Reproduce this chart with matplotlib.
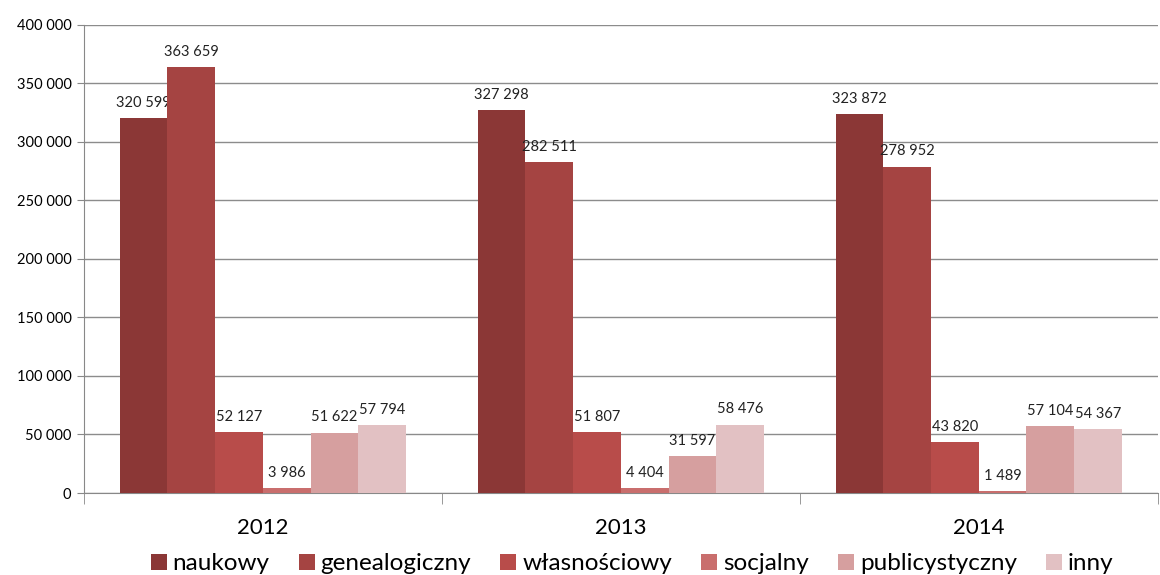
import numpy as np
import matplotlib.pyplot as plt
from matplotlib.ticker import FuncFormatter, FixedLocator

years = ['2012', '2013', '2014']
series = ['naukowy', 'genealogiczny', 'własnościowy', 'socjalny', 'publicystyczny', 'inny']
values = {
    'naukowy': [320599, 327298, 323872],
    'genealogiczny': [363659, 282511, 278952],
    'własnościowy': [52127, 51807, 43820],
    'socjalny': [3986, 4404, 1489],
    'publicystyczny': [51622, 31597, 57104],
    'inny': [57794, 58476, 54367],
}
colors = ['#8B3736', '#A54442', '#B84C4A', '#C96E6D', '#D69F9F', '#E2C1C3']

plt.rcParams['font.family'] = ['Lato', 'DejaVu Sans']


def fmt(v, pos=None):
    return f'{int(v):,}'.replace(',', ' ')


fig = plt.figure(figsize=(11.6, 5.75), dpi=100)
ax = fig.add_axes([0.0724, 0.1426, 0.9256, 0.814])

n = len(series)
width = 0.8 / n
x = np.arange(len(years))
for i, (name, c) in enumerate(zip(series, colors)):
    pos = x - 0.4 + width * (i + 0.5)
    ax.bar(pos, values[name], width=width, color=c, label=name, zorder=3)
    for px, v in zip(pos, values[name]):
        ax.text(px, v + 7000, fmt(v), ha='center', va='bottom', fontsize=10.5, color='#222222')

ax.set_xlim(-0.5, len(years) - 0.5)
ax.set_ylim(0, 400000)
ax.set_yticks(np.arange(0, 400001, 50000))
ax.yaxis.set_major_formatter(FuncFormatter(fmt))
ax.tick_params(axis='y', labelsize=10.5, length=5, color='#888888', pad=4)
ax.grid(axis='y', color='#8c8c8c', linewidth=1, zorder=0)

ax.set_xticks(x)
ax.set_xticklabels(years, fontsize=16)
ax.tick_params(axis='x', length=0, pad=18)
ax.xaxis.set_minor_locator(FixedLocator([-0.5, 0.5, 1.5, 2.5]))
ax.tick_params(axis='x', which='minor', length=8, color='#888888')

for s in ['top', 'right']:
    ax.spines[s].set_visible(False)
for s in ['left', 'bottom']:
    ax.spines[s].set_color('#888888')

handles, labels = ax.get_legend_handles_labels()
fig.legend(handles, labels, loc='center', bbox_to_anchor=(0.545, 1 - 564 / 575), ncol=6,
           frameon=False, fontsize=17.5, handlelength=0.65, handleheight=0.65,
           handletextpad=0.25, columnspacing=1.2)

fig.savefig('out.png', dpi=100)
